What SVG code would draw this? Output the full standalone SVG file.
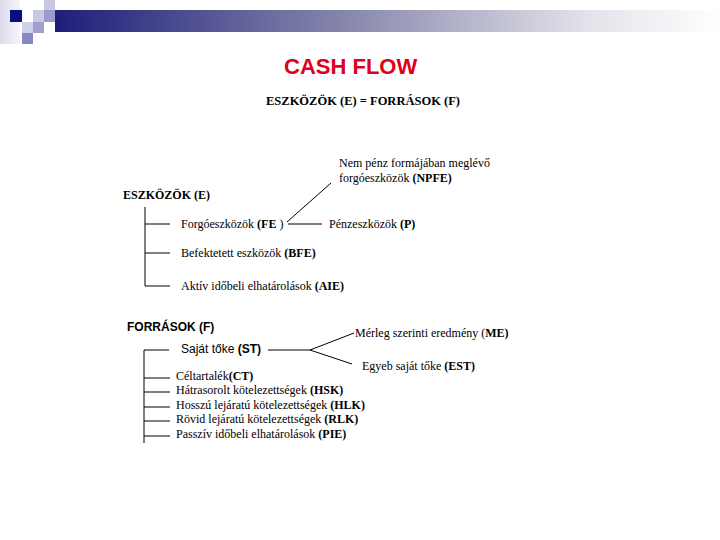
<svg xmlns="http://www.w3.org/2000/svg" width="720" height="540" viewBox="0 0 720 540">
<defs>
<linearGradient id="bar" x1="0" y1="0" x2="1" y2="0">
<stop offset="0" stop-color="#1e1e7a"/>
<stop offset="0.45" stop-color="#8a8aae"/>
<stop offset="0.8" stop-color="#e2e2ea"/>
<stop offset="1" stop-color="#ffffff"/>
</linearGradient>
<linearGradient id="col" x1="0" y1="0" x2="1" y2="0">
<stop offset="0" stop-color="#dcdcee"/>
<stop offset="1" stop-color="#f4f4fa"/>
</linearGradient>
<style>
.ln{stroke:#000;stroke-width:1;fill:none}
.t{font-family:"Liberation Serif","Times New Roman",serif;font-size:12px;fill:#000}
.s{font-family:"Liberation Sans",Arial,sans-serif;font-size:12px;fill:#000}
.b{font-weight:bold}
</style>
</defs>
<g id="decoration">
<rect x="0" y="0" width="20" height="44" fill="url(#col)"/>
<rect x="55" y="10" width="665" height="22" fill="url(#bar)"/>
<rect x="10" y="10" width="12" height="12" fill="#0c0c80"/>
<rect x="33" y="10" width="11" height="12" fill="#c8c8e4"/>
<rect x="44" y="0" width="11" height="10" fill="#c8c8e4"/>
<rect x="44" y="10" width="11" height="12" fill="#9a9acc"/>
<rect x="22" y="22" width="11" height="11" fill="#d0d0ea"/>
<rect x="33" y="22" width="11" height="11" fill="#a0a0d0"/>
<rect x="22" y="33" width="11" height="11" fill="#8888c0"/>
</g>
<g id="title">
<text x="284" y="74" style="font-family:'Liberation Sans',Arial,sans-serif;font-size:22px;font-weight:bold;fill:#e0001b">CASH FLOW</text>
<text x="266" y="105" class="t b" style="font-size:12.5px">ESZKÖZÖK (E) =  FORRÁSOK (F)</text>
</g>
<g id="connectors">
<path class="ln" d="M145 207V286H170M145 224H170M145 253H170"/>
<path class="ln" d="M288 224H322M287 222L331 183"/>
<path class="ln" d="M144 350V443M144 350H169M144 378H170M144 392H170M144 407H170M144 421H170M144 436H170"/>
<path class="ln" d="M268 350H310L354 333M310 350L352 364"/>
</g>
<g id="eszkozok"><text x="123" y="199" class="t b">ESZKÖZÖK (E)</text></g>
<g id="npfe"><text x="339" y="167" class="t">Nem pénz formájában meglévő</text><text x="339" y="182" class="t">forgóeszközök <tspan class="b">(NPFE)</tspan></text></g>
<g id="fe"><text x="181" y="228" class="t">Forgóeszközök <tspan class="b">(FE </tspan>)</text></g>
<g id="p"><text x="329" y="228" class="t">Pénzeszközök <tspan class="b">(P)</tspan></text></g>
<g id="bfe"><text x="181" y="257" class="t">Befektetett eszközök <tspan class="b">(BFE)</tspan></text></g>
<g id="aie"><text x="181" y="290" class="t">Aktív időbeli elhatárolások <tspan class="b">(AIE)</tspan></text></g>
<g id="forrasok"><text x="127" y="331" class="s b">FORRÁSOK (F)</text></g>
<g id="st"><text x="181" y="353" class="s">Saját tőke <tspan class="b">(ST)</tspan></text></g>
<g id="me"><text x="355" y="337" class="t">Mérleg szerinti eredmény (<tspan class="b">ME)</tspan></text></g>
<g id="est"><text x="362" y="370" class="t">Egyeb saját tőke <tspan class="b">(EST)</tspan></text></g>
<g id="ct"><text x="176" y="380" class="t">Céltartalék<tspan class="b">(CT)</tspan></text></g>
<g id="hsk"><text x="176" y="394" class="t">Hátrasorolt kötelezettségek <tspan class="b">(HSK)</tspan></text></g>
<g id="hlk"><text x="176" y="409" class="t">Hosszú lejáratú kötelezettségek <tspan class="b">(HLK)</tspan></text></g>
<g id="rlk"><text x="176" y="423" class="t">Rövid lejáratú kötelezettségek <tspan class="b">(RLK)</tspan></text></g>
<g id="pie"><text x="176" y="438" class="t">Passzív időbeli elhatárolások <tspan class="b">(PIE)</tspan></text></g>
</svg>
